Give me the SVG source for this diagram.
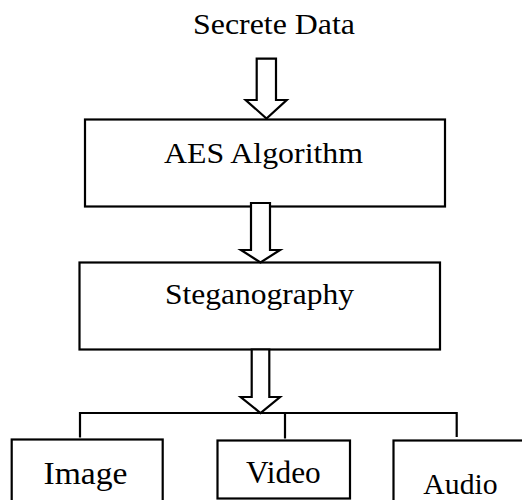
<svg xmlns="http://www.w3.org/2000/svg" width="522" height="500" viewBox="0 0 522 500">
  <style>
    .box { fill: #ffffff; stroke: #000000; stroke-width: 2.2; }
    .arrow { fill: #ffffff; stroke: #000000; stroke-width: 2.2; stroke-linejoin: miter; }
    .wire { fill: none; stroke: #000000; stroke-width: 2.2; }
    .label { font-family: 'Liberation Serif', serif; fill: #000000; text-anchor: middle; }
  </style>
  <rect width="522" height="500" fill="#ffffff"/>

  <g id="secret-data">
    <text class="label" font-family="Liberation Serif, serif" x="274" y="33.5" font-size="28.5" textLength="162" lengthAdjust="spacingAndGlyphs">Secrete Data</text>
  </g>

  <g id="aes">
    <rect class="box" x="85" y="119.5" width="360" height="87"/>
    <text class="label" font-family="Liberation Serif, serif" x="263.5" y="162.5" font-size="29.5" textLength="199" lengthAdjust="spacingAndGlyphs">AES Algorithm</text>
  </g>

  <g id="steganography">
    <rect class="box" x="79.5" y="262.5" width="360.5" height="87"/>
    <text class="label" font-family="Liberation Serif, serif" x="259.5" y="304" font-size="29.5" textLength="189" lengthAdjust="spacingAndGlyphs">Steganography</text>
  </g>

  <g id="connectors">
    <!-- block arrows -->
    <polygon class="arrow" points="256.7,58.7 276,58.7 276,100 286.7,100 266.5,118.5 245.7,100 256.7,100"/>
    <polygon class="arrow" points="251,203 270,203 270,250 280,250 260.5,262.5 241,250 251,250"/>
    <polygon class="arrow" points="251.7,349.5 269.3,349.5 269.3,397 280,397 260.5,413 240.7,397 251.7,397"/>
    <!-- distribution bus -->
    <path class="wire" d="M80,437.5 V413 H456.7 V437 M285,413 V438.5"/>
  </g>

  <g id="image">
    <rect class="box" x="11.7" y="439.5" width="151" height="70"/>
    <text class="label" font-family="Liberation Serif, serif" x="85.5" y="484.3" font-size="31.5" textLength="84" lengthAdjust="spacingAndGlyphs">Image</text>
  </g>

  <g id="video">
    <rect class="box" x="217.5" y="440.5" width="132.5" height="58"/>
    <text class="label" font-family="Liberation Serif, serif" x="283.4" y="483.3" font-size="30.5" textLength="74.7" lengthAdjust="spacingAndGlyphs">Video</text>
  </g>

  <g id="audio">
    <rect class="box" x="393.5" y="440.5" width="140" height="70"/>
    <text class="label" font-family="Liberation Serif, serif" x="460.5" y="494.3" font-size="30" textLength="74.3" lengthAdjust="spacingAndGlyphs">Audio</text>
  </g>
</svg>
